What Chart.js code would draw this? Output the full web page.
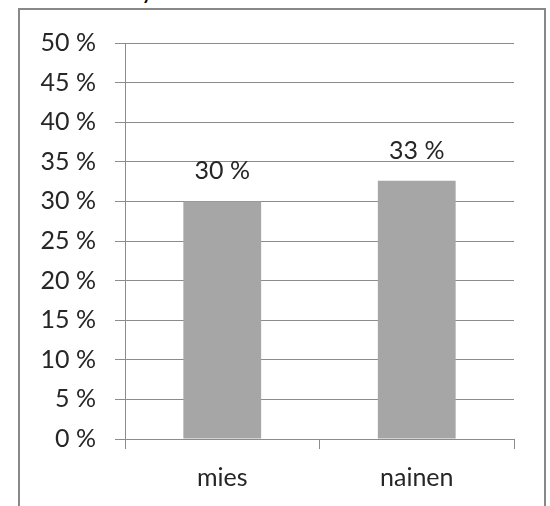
<!DOCTYPE html>
<html>
<head>
<meta charset="utf-8">
<script src="https://cdn.jsdelivr.net/npm/chart.js@4"></script>
<style>
  html, body { margin: 0; padding: 0; background: #fff; overflow: hidden; }
  #wrap { position: relative; width: 550px; height: 506px; }
  #kehys {
    position: absolute; left: 18px; top: 8px; width: 524px; height: 520px;
    border: 2px solid #888; box-sizing: content-box;
  }
  #otsikko {
    position: absolute; left: 141px; top: -26px; line-height: 24px;
    font: 25px Lato, sans-serif; color: #000;
  }
  canvas { position: absolute; left: 0; top: 0; }
</style>
</head>
<body>
<div id="wrap">
  <div id="otsikko">y</div>
  <div id="kehys"></div>
  <canvas id="kaavio" width="550" height="506"></canvas>
</div>
<script>
// Sukupuolijakauma, osuudet prosentteina
const kategoriat = ["mies", "nainen"];
const osuudet = [30, 32.6];
const yAskeleet = { min: 0, max: 50, step: 5 };

const FONTTI = "Lato, sans-serif";
const KOKO = 25;
const TEKSTI = "#262626";
const VIIVA = "#8c8c8c";

// arvot pylväiden yläpuolelle, kuten Excelissä
const arvoTekstit = {
  id: "arvoTekstit",
  afterDatasetsDraw(chart) {
    const ctx = chart.ctx;
    const meta = chart.getDatasetMeta(0);
    ctx.save();
    ctx.font = KOKO + "px " + FONTTI;
    ctx.fillStyle = TEKSTI;
    ctx.textAlign = "center";
    ctx.textBaseline = "middle";
    meta.data.forEach((bar, i) => {
      ctx.fillText(Math.round(osuudet[i]) + " %", bar.x, bar.y - 30);
    });
    ctx.restore();
  }
};

new Chart(document.getElementById("kaavio"), {
  type: "bar",
  data: {
    labels: kategoriat,
    datasets: [{
      data: osuudet,
      backgroundColor: "#a6a6a6",
      borderWidth: 0,
      barPercentage: 0.4,
      categoryPercentage: 1
    }]
  },
  options: {
    responsive: false,
    animation: false,
    layout: { padding: { left: 0, right: 36, top: 43, bottom: 0 } },
    plugins: {
      legend: { display: false },
      tooltip: { enabled: false }
    },
    scales: {
      x: {
        offset: true,
        afterFit: (s) => { s.height = 67; },
        grid: { display: true, drawOnChartArea: false, offset: true, tickLength: 10, color: VIIVA },
        border: { display: true, color: VIIVA, width: 1 },
        ticks: { color: TEKSTI, font: { family: FONTTI, size: KOKO }, padding: 14 }
      },
      y: {
        min: yAskeleet.min,
        max: yAskeleet.max,
        afterFit: (s) => { s.width = 125; },
        grid: { color: VIIVA, tickLength: 10 },
        border: { display: true, color: VIIVA, width: 1 },
        ticks: {
          stepSize: yAskeleet.step,
          color: TEKSTI,
          font: { family: FONTTI, size: KOKO },
          padding: 19,
          callback: (v) => v + " %"
        }
      }
    }
  },
  plugins: [arvoTekstit]
});
</script>
</body>
</html>
